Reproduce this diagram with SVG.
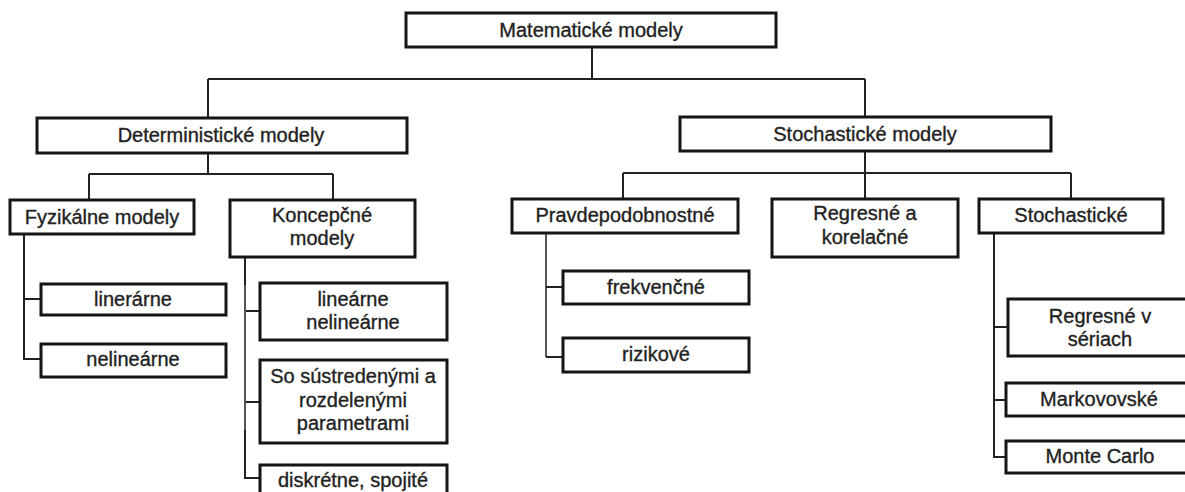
<svg xmlns="http://www.w3.org/2000/svg" width="1185" height="492" viewBox="0 0 1185 492">
<style>
.box{fill:#fff;stroke:#151515;stroke-width:3}
.t{font-family:"Liberation Sans",Arial,sans-serif;font-size:20px;fill:#222;stroke:#222;stroke-width:0.35;text-anchor:middle}
.c{fill:none;stroke:#222;stroke-width:2}
.g{fill:none;stroke:#555;stroke-width:2}
</style>
<rect width="1185" height="492" fill="#fff"/>
<g id="connectors">
<path class="c" d="M592 47V79M208 79H865M208 79V118M865 79V117"/>
<path class="c" d="M208 153V174M89 174H333M89 174V200M333 174V200"/>
<path class="c" d="M24 234V359H41M24 299H41"/>
<path class="c" d="M245 257V478H260M245 311H260M245 402H260"/>
<path class="g" d="M245 285V430"/>
<path class="c" d="M865 151V199M623 173H1071M623 173V199M1071 173V199"/>
<path class="g" d="M546 233V357"/>
<path class="c" d="M546 287H563M546 357H563"/>
<path class="c" d="M994 233V457H1006M994 327H1008M994 400H1006"/>
</g>
<g id="n-top"><rect class="box" x="406" y="13" width="370" height="34"/><text class="t" x="591" y="37">Matematické modely</text></g>
<g id="n-det"><rect class="box" x="37" y="118" width="370" height="35"/><text class="t" x="221" y="142">Deterministické modely</text></g>
<g id="n-stoch"><rect class="box" x="680" y="117" width="371" height="34"/><text class="t" x="865" y="141">Stochastické modely</text></g>
<g id="n-fyz"><rect class="box" x="10" y="200" width="184" height="34"/><text class="t" x="102" y="224">Fyzikálne modely</text></g>
<g id="n-konc"><rect class="box" x="230" y="200" width="185" height="57"/><text class="t" x="322" y="222">Koncepčné</text><text class="t" x="322" y="245">modely</text></g>
<g id="n-lin"><rect class="box" x="41" y="284" width="185" height="31"/><text class="t" x="133" y="306">linerárne</text></g>
<g id="n-nelin"><rect class="box" x="41" y="344" width="185" height="33"/><text class="t" x="133" y="366">nelineárne</text></g>
<g id="n-linnelin"><rect class="box" x="260" y="283" width="187" height="57"/><text class="t" x="353" y="306">lineárne</text><text class="t" x="353" y="329">nelineárne</text></g>
<g id="n-sustr"><rect class="box" x="260" y="360" width="187" height="83"/><text class="t" x="353" y="383">So sústredenými a</text><text class="t" x="353" y="407">rozdelenými</text><text class="t" x="353" y="430">parametrami</text></g>
<g id="n-diskr"><rect class="box" x="260" y="465" width="187" height="40"/><text class="t" x="353" y="487">diskrétne, spojité</text></g>
<g id="n-pravd"><rect class="box" x="512" y="199" width="226" height="34"/><text class="t" x="625" y="222">Pravdepodobnostné</text></g>
<g id="n-regkor"><rect class="box" x="772" y="199" width="186" height="58"/><text class="t" x="865" y="220">Regresné a</text><text class="t" x="865" y="244">korelačné</text></g>
<g id="n-stochastic"><rect class="box" x="979" y="199" width="184" height="34"/><text class="t" x="1071" y="222">Stochastické</text></g>
<g id="n-frek"><rect class="box" x="563" y="271" width="186" height="33"/><text class="t" x="656" y="294">frekvenčné</text></g>
<g id="n-riz"><rect class="box" x="563" y="338" width="186" height="34"/><text class="t" x="656" y="361">rizikové</text></g>
<g id="n-regser"><rect class="box" x="1008" y="299" width="184" height="57"/><text class="t" x="1100" y="323">Regresné v</text><text class="t" x="1100" y="346">sériach</text></g>
<g id="n-markov"><rect class="box" x="1006" y="383" width="186" height="33"/><text class="t" x="1099" y="406">Markovovské</text></g>
<g id="n-monte"><rect class="box" x="1006" y="441" width="186" height="32"/><text class="t" x="1100" y="463">Monte Carlo</text></g>
</svg>
